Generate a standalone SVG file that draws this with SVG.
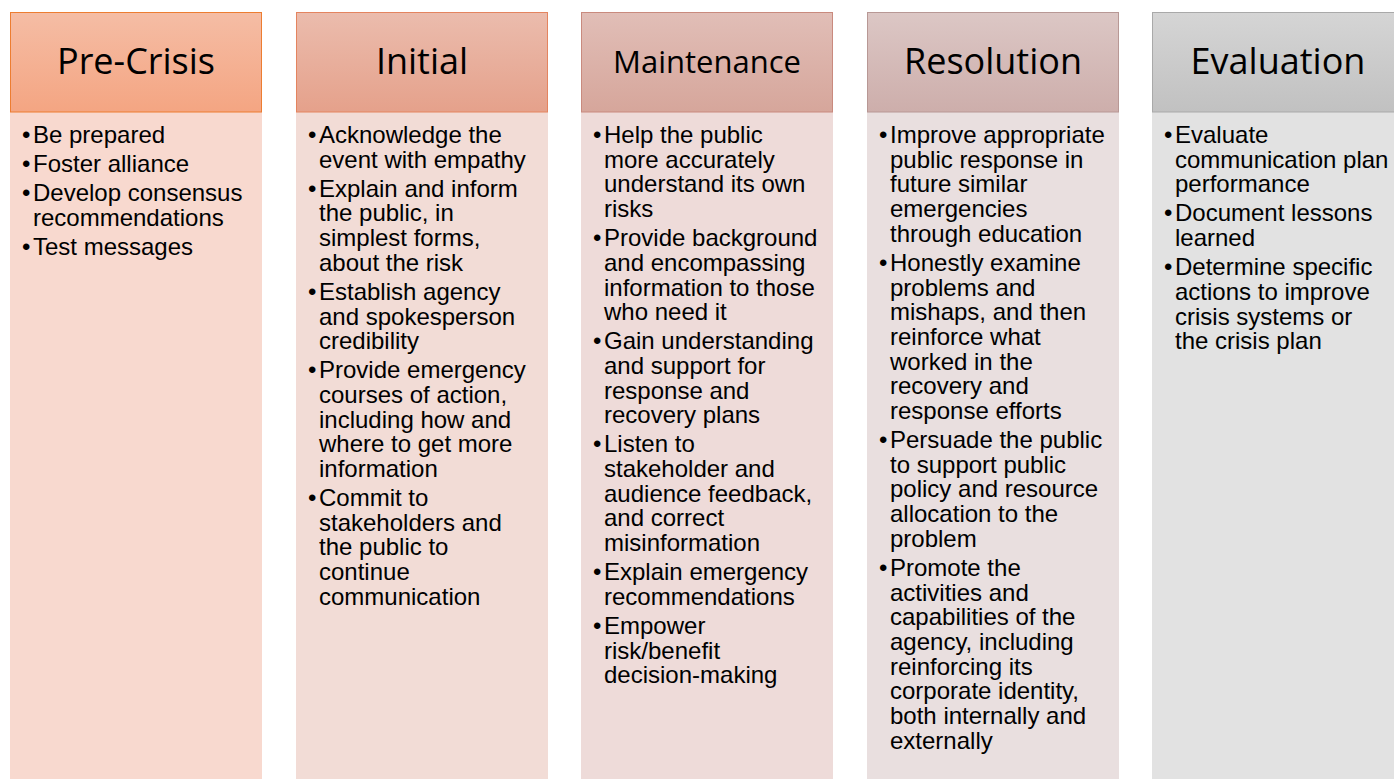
<svg xmlns="http://www.w3.org/2000/svg" width="1394" height="779" viewBox="0 0 1394 779">
  <defs>
    <linearGradient id="g1" x1="0" y1="0" x2="0" y2="1"><stop offset="0" stop-color="#f5bda5"/><stop offset="1" stop-color="#f4a582"/></linearGradient>
    <linearGradient id="g2" x1="0" y1="0" x2="0" y2="1"><stop offset="0" stop-color="#ebbcad"/><stop offset="1" stop-color="#e5a18b"/></linearGradient>
    <linearGradient id="g3" x1="0" y1="0" x2="0" y2="1"><stop offset="0" stop-color="#e1beb7"/><stop offset="1" stop-color="#d6a69b"/></linearGradient>
    <linearGradient id="g4" x1="0" y1="0" x2="0" y2="1"><stop offset="0" stop-color="#dcc7c5"/><stop offset="1" stop-color="#cdaeab"/></linearGradient>
    <linearGradient id="g5" x1="0" y1="0" x2="0" y2="1"><stop offset="0" stop-color="#d5d5d5"/><stop offset="1" stop-color="#c1c1c1"/></linearGradient>
  </defs>
  <style>
    .hd { font-family: "Open Sans", "Noto Sans", sans-serif; font-size: 36px; fill: #000; text-anchor: middle; }
    .tx { font-family: "Liberation Sans", Arial, sans-serif; font-size: 24px; fill: #000; }
  </style>
  <rect width="1394" height="779" fill="#ffffff"/>

  <g id="col-precrisis">
    <rect x="10" y="112" width="252" height="667" fill="#f8d9cf"/>
    <rect x="10.5" y="12.5" width="251" height="99.5" fill="url(#g1)" stroke="#ed7d31" stroke-width="1"/>
    <text class="hd" x="136" y="74">Pre-Crisis</text>
    <text class="tx" x="22" y="143">•</text><text class="tx" x="33" y="143">Be prepared</text>
    <text class="tx" x="22" y="172">•</text><text class="tx" x="33" y="172">Foster alliance</text>
    <text class="tx" x="22" y="201">•</text><text class="tx" y="201"><tspan x="33">Develop consensus</tspan><tspan x="33" dy="24.7">recommendations</tspan></text>
    <text class="tx" x="22" y="254.7">•</text><text class="tx" x="33" y="254.7">Test messages</text>
  </g>

  <g id="col-initial">
    <rect x="296" y="112" width="252" height="667" fill="#f2dcd6"/>
    <rect x="296.5" y="12.5" width="251" height="99.5" fill="url(#g2)" stroke="#e4845f" stroke-width="1"/>
    <text class="hd" x="422" y="74">Initial</text>
    <text class="tx" x="308" y="143">•</text><text class="tx" y="143"><tspan x="319">Acknowledge the</tspan><tspan x="319" dy="24.7">event with empathy</tspan></text>
    <text class="tx" x="308" y="196.7">•</text><text class="tx" y="196.7"><tspan x="319">Explain and inform</tspan><tspan x="319" dy="24.7">the public, in</tspan><tspan x="319" dy="24.7">simplest forms,</tspan><tspan x="319" dy="24.7">about the risk</tspan></text>
    <text class="tx" x="308" y="299.8">•</text><text class="tx" y="299.8"><tspan x="319">Establish agency</tspan><tspan x="319" dy="24.7">and spokesperson</tspan><tspan x="319" dy="24.7">credibility</tspan></text>
    <text class="tx" x="308" y="378.2">•</text><text class="tx" y="378.2"><tspan x="319">Provide emergency</tspan><tspan x="319" dy="24.7">courses of action,</tspan><tspan x="319" dy="24.7">including how and</tspan><tspan x="319" dy="24.7">where to get more</tspan><tspan x="319" dy="24.7">information</tspan></text>
    <text class="tx" x="308" y="506">•</text><text class="tx" y="506"><tspan x="319">Commit to</tspan><tspan x="319" dy="24.7">stakeholders and</tspan><tspan x="319" dy="24.7">the public to</tspan><tspan x="319" dy="24.7">continue</tspan><tspan x="319" dy="24.7">communication</tspan></text>
  </g>

  <g id="col-maintenance">
    <rect x="581" y="112" width="252" height="667" fill="#eedbd9"/>
    <rect x="581.5" y="12.5" width="251" height="99.5" fill="url(#g3)" stroke="#c98a7e" stroke-width="1"/>
    <text class="hd" x="707" y="73" style="font-size:31px">Maintenance</text>
    <text class="tx" x="593" y="143">•</text><text class="tx" y="143"><tspan x="604">Help the public</tspan><tspan x="604" dy="24.7">more accurately</tspan><tspan x="604" dy="24.7">understand its own</tspan><tspan x="604" dy="24.7">risks</tspan></text>
    <text class="tx" x="593" y="246.1">•</text><text class="tx" y="246.1"><tspan x="604">Provide background</tspan><tspan x="604" dy="24.7">and encompassing</tspan><tspan x="604" dy="24.7">information to those</tspan><tspan x="604" dy="24.7">who need it</tspan></text>
    <text class="tx" x="593" y="349.2">•</text><text class="tx" y="349.2"><tspan x="604">Gain understanding</tspan><tspan x="604" dy="24.7">and support for</tspan><tspan x="604" dy="24.7">response and</tspan><tspan x="604" dy="24.7">recovery plans</tspan></text>
    <text class="tx" x="593" y="452.3">•</text><text class="tx" y="452.3"><tspan x="604">Listen to</tspan><tspan x="604" dy="24.7">stakeholder and</tspan><tspan x="604" dy="24.7">audience feedback,</tspan><tspan x="604" dy="24.7">and correct</tspan><tspan x="604" dy="24.7">misinformation</tspan></text>
    <text class="tx" x="593" y="580.1">•</text><text class="tx" y="580.1"><tspan x="604">Explain emergency</tspan><tspan x="604" dy="24.7">recommendations</tspan></text>
    <text class="tx" x="593" y="633.8">•</text><text class="tx" y="633.8"><tspan x="604">Empower</tspan><tspan x="604" dy="24.7">risk/benefit</tspan><tspan x="604" dy="24.7">decision-making</tspan></text>
  </g>

  <g id="col-resolution">
    <rect x="867" y="112" width="252" height="667" fill="#e9dfdf"/>
    <rect x="867.5" y="12.5" width="251" height="99.5" fill="url(#g4)" stroke="#b89895" stroke-width="1"/>
    <text class="hd" x="993" y="74">Resolution</text>
    <text class="tx" x="879" y="143">•</text><text class="tx" y="143"><tspan x="890">Improve appropriate</tspan><tspan x="890" dy="24.7">public response in</tspan><tspan x="890" dy="24.7">future similar</tspan><tspan x="890" dy="24.7">emergencies</tspan><tspan x="890" dy="24.7">through education</tspan></text>
    <text class="tx" x="879" y="270.8">•</text><text class="tx" y="270.8"><tspan x="890">Honestly examine</tspan><tspan x="890" dy="24.7">problems and</tspan><tspan x="890" dy="24.7">mishaps, and then</tspan><tspan x="890" dy="24.7">reinforce what</tspan><tspan x="890" dy="24.7">worked in the</tspan><tspan x="890" dy="24.7">recovery and</tspan><tspan x="890" dy="24.7">response efforts</tspan></text>
    <text class="tx" x="879" y="448">•</text><text class="tx" y="448"><tspan x="890">Persuade the public</tspan><tspan x="890" dy="24.7">to support public</tspan><tspan x="890" dy="24.7">policy and resource</tspan><tspan x="890" dy="24.7">allocation to the</tspan><tspan x="890" dy="24.7">problem</tspan></text>
    <text class="tx" x="879" y="575.8">•</text><text class="tx" y="575.8"><tspan x="890">Promote the</tspan><tspan x="890" dy="24.7">activities and</tspan><tspan x="890" dy="24.7">capabilities of the</tspan><tspan x="890" dy="24.7">agency, including</tspan><tspan x="890" dy="24.7">reinforcing its</tspan><tspan x="890" dy="24.7">corporate identity,</tspan><tspan x="890" dy="24.7">both internally and</tspan><tspan x="890" dy="24.7">externally</tspan></text>
  </g>

  <g id="col-evaluation">
    <rect x="1152" y="112" width="252" height="667" fill="#e2e2e2"/>
    <rect x="1152.5" y="12.5" width="251" height="99.5" fill="url(#g5)" stroke="#a9a9a9" stroke-width="1"/>
    <text class="hd" x="1278" y="74">Evaluation</text>
    <text class="tx" x="1164" y="143">•</text><text class="tx" y="143"><tspan x="1175">Evaluate</tspan><tspan x="1175" dy="24.7">communication plan</tspan><tspan x="1175" dy="24.7">performance</tspan></text>
    <text class="tx" x="1164" y="221.4">•</text><text class="tx" y="221.4"><tspan x="1175">Document lessons</tspan><tspan x="1175" dy="24.7">learned</tspan></text>
    <text class="tx" x="1164" y="275.1">•</text><text class="tx" y="275.1"><tspan x="1175">Determine specific</tspan><tspan x="1175" dy="24.7">actions to improve</tspan><tspan x="1175" dy="24.7">crisis systems or</tspan><tspan x="1175" dy="24.7">the crisis plan</tspan></text>
  </g>

  <g id="connectors"/>
</svg>
